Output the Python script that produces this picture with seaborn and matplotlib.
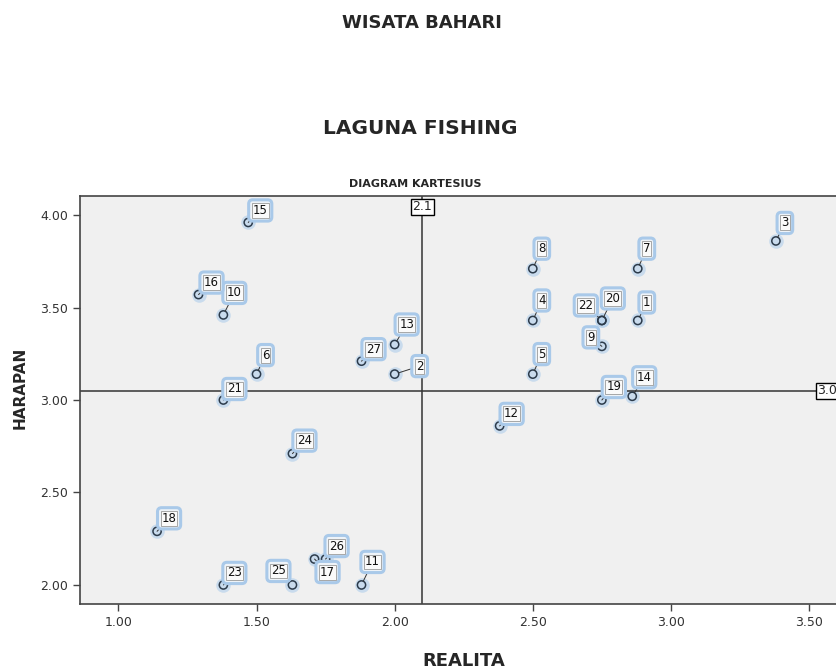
import matplotlib
matplotlib.use("Agg")
import matplotlib.pyplot as plt
import pandas as pd
import seaborn as sns

# respondent number, realita (x) and harapan (y) scores
respondent = [1, 2, 3, 4, 5, 6, 7, 8, 9, 10, 11, 12, 13, 14,
              15, 16, 17, 18, 19, 20, 21, 22, 23, 24, 25, 26, 27]
realita = [2.88, 2.00, 3.38, 2.50, 2.50, 1.50, 2.88, 2.50, 2.75, 1.38, 1.88, 2.38, 2.00, 2.86,
           1.47, 1.29, 1.71, 1.14, 2.75, 2.75, 1.38, 2.75, 1.38, 1.63, 1.63, 1.75, 1.88]
harapan = [3.43, 3.14, 3.86, 3.43, 3.14, 3.14, 3.71, 3.71, 3.29, 3.46, 2.00, 2.86, 3.30, 3.02,
           3.96, 3.57, 2.14, 2.29, 3.00, 3.43, 3.00, 3.43, 2.00, 2.71, 2.00, 2.14, 3.21]

# mean lines of the cartesian diagram
mean_realita = 2.1
mean_harapan = 3.05

x_ticks = [1.00, 1.50, 2.00, 2.50, 3.00, 3.50]
y_ticks = [2.00, 2.50, 3.00, 3.50, 4.00]

# where each point label sits relative to its point (pixels)
label_dx = [9, 25, 9, 9, 9, 9, 9, 9, -11, 11, 11, 12, 12, 12,
            12, 13, 13, 12, 12, 11, 11, -16, 11, 12, -14, 11, 12]
label_dy = [18, 8, 18, 20, 20, 19, 20, 20, 9, 22, 23, 12, 20, 19,
            12, 12, -13, 13, 13, 22, 11, 15, 12, 13, 14, 13, 12]

df = pd.DataFrame({"no": respondent, "REALITA": realita, "HARAPAN": harapan})

sns.set_style("ticks")
plt.rcParams["font.family"] = ["DejaVu Sans"]

fig = plt.figure(figsize=(8.37, 6.7), dpi=100)
ax = fig.add_axes([80 / 837, 1 - 604 / 670, 768 / 837, 408 / 670])
ax.set_facecolor("#f0f0f0")

# blue glow behind each marker, then the open circle
sns.scatterplot(data=df, x="REALITA", y="HARAPAN", s=110, color="#b9d3ec",
                alpha=0.7, linewidth=0, ax=ax, legend=False)
sns.scatterplot(data=df, x="REALITA", y="HARAPAN", s=35, ax=ax, legend=False, zorder=4)
pts = ax.collections[-1]
pts.set_facecolor("none")
pts.set_edgecolor("#2c3b4b")
pts.set_linewidth(1.1)

ax.axvline(mean_realita, color="#333333", lw=1.1, zorder=2)
ax.axhline(mean_harapan, color="#333333", lw=1.1, zorder=2)

ax.annotate(f"{mean_realita}", xy=(mean_realita, 1), xycoords=("data", "axes fraction"),
            xytext=(0, -4), textcoords="offset pixels", ha="center", va="top", fontsize=9,
            bbox=dict(boxstyle="square,pad=0.12", fc="white", ec="black", lw=1), zorder=6)
ax.annotate(f"{mean_harapan}", xy=(1, mean_harapan), xycoords=("axes fraction", "data"),
            xytext=(-3, 0), textcoords="offset pixels", ha="right", va="center", fontsize=9,
            bbox=dict(boxstyle="square,pad=0.12", fc="white", ec="black", lw=1), zorder=6)

for i in range(len(respondent)):
    pos = (realita[i], harapan[i])
    off = (label_dx[i], label_dy[i])
    # glow box with connector line
    ax.annotate(str(respondent[i]), xy=pos, xytext=off, textcoords="offset pixels",
                ha="center", va="center", fontsize=8.5, color="#111111",
                bbox=dict(boxstyle="round,pad=0.35", fc="#eef3f8", ec="#a9c9e9", lw=2.2),
                arrowprops=dict(arrowstyle="-", color="#333333", lw=0.7, shrinkA=0, shrinkB=3),
                zorder=5)
    ax.annotate(str(respondent[i]), xy=pos, xytext=off, textcoords="offset pixels",
                ha="center", va="center", fontsize=8.5, color="#111111",
                bbox=dict(boxstyle="square,pad=0.08", fc="#fafafa", ec="#9a9a9a", lw=0.6),
                zorder=5)

ax.set_xlim(0.861, 3.641)
ax.set_ylim(1.897, 4.103)
ax.set_xticks(x_ticks)
ax.set_xticklabels([f"{v:.2f}" for v in x_ticks])
ax.set_yticks(y_ticks)
ax.set_yticklabels([f"{v:.2f}" for v in y_ticks])
ax.tick_params(direction="out", length=5, width=1, color="#444444",
               labelsize=9, labelcolor="#333333")
for sp in ax.spines.values():
    sp.set_visible(True)
    sp.set_color("#444444")
    sp.set_linewidth(1.2)

ax.set_xlabel("REALITA", fontsize=13, fontweight="bold")
ax.set_ylabel("HARAPAN", fontsize=11, fontweight="bold")
ax.xaxis.set_label_coords(0.5, -0.118)
ax.yaxis.set_label_coords(-0.068, 0.529)

fig.text(422 / 837, 1 - 23 / 670, "WISATA BAHARI", ha="center", va="center",
         fontsize=13, fontweight="bold")
fig.text(420 / 837, 1 - 128 / 670, "LAGUNA FISHING", ha="center", va="center",
         fontsize=14.5, fontweight="bold")
fig.text(415 / 837, 1 - 184 / 670, "DIAGRAM KARTESIUS", ha="center", va="center",
         fontsize=8, fontweight="bold")

fig.savefig("out.png", dpi=100)
